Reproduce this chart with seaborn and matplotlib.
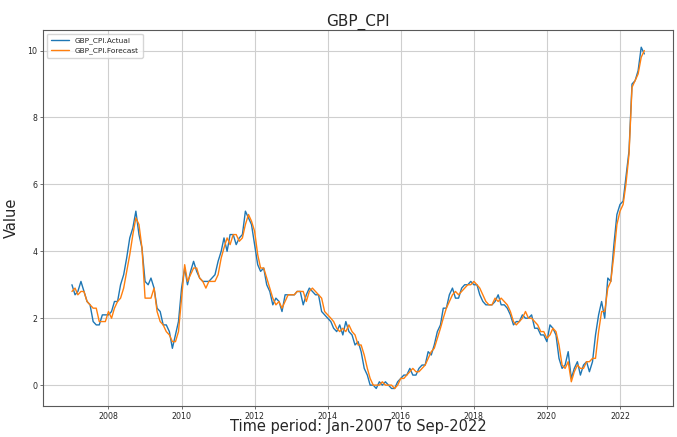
import numpy as np
import pandas as pd
import matplotlib
matplotlib.use("Agg")
import matplotlib.pyplot as plt
import seaborn as sns

# Monthly UK CPI annual rate (%), Jan-2007 .. Sep-2022
start_month = "2007-01"
end_month = "2022-09"

actual = [
    3.0, 2.7, 2.8, 3.1, 2.8, 2.5, 2.4, 1.9, 1.8, 1.8, 2.1, 2.1,   # 2007
    2.1, 2.2, 2.5, 2.5, 3.0, 3.3, 3.8, 4.4, 4.7, 5.2, 4.5, 4.1,   # 2008
    3.1, 3.0, 3.2, 2.9, 2.3, 2.2, 1.8, 1.8, 1.6, 1.1, 1.5, 1.9,   # 2009
    2.9, 3.5, 3.0, 3.4, 3.7, 3.4, 3.2, 3.1, 3.1, 3.1, 3.2, 3.3,   # 2010
    3.7, 4.0, 4.4, 4.0, 4.5, 4.5, 4.2, 4.4, 4.5, 5.2, 5.0, 4.8,   # 2011
    4.2, 3.6, 3.4, 3.5, 3.0, 2.8, 2.4, 2.6, 2.5, 2.2, 2.7, 2.7,   # 2012
    2.7, 2.7, 2.8, 2.8, 2.4, 2.7, 2.9, 2.8, 2.7, 2.7, 2.2, 2.1,   # 2013
    2.0, 1.9, 1.7, 1.6, 1.8, 1.5, 1.9, 1.6, 1.5, 1.2, 1.3, 1.0,   # 2014
    0.5, 0.3, 0.0, 0.0, -0.1, 0.1, 0.0, 0.1, 0.0, -0.1, -0.1, 0.1,  # 2015
    0.2, 0.3, 0.3, 0.5, 0.3, 0.3, 0.5, 0.6, 0.6, 1.0, 0.9, 1.2,   # 2016
    1.6, 1.8, 2.3, 2.3, 2.7, 2.9, 2.6, 2.6, 2.9, 3.0, 3.0, 3.1,   # 2017
    3.0, 3.0, 2.7, 2.5, 2.4, 2.4, 2.4, 2.5, 2.7, 2.4, 2.4, 2.3,   # 2018
    2.1, 1.8, 1.9, 1.9, 2.1, 2.0, 2.0, 2.1, 1.7, 1.7, 1.5, 1.5,   # 2019
    1.3, 1.8, 1.7, 1.5, 0.8, 0.5, 0.6, 1.0, 0.2, 0.5, 0.7, 0.3,   # 2020
    0.6, 0.7, 0.4, 0.7, 1.5, 2.1, 2.5, 2.0, 3.2, 3.1, 4.2, 5.1,   # 2021
    5.4, 5.5, 6.2, 7.0, 9.0, 9.1, 9.4, 10.1, 9.9,                 # 2022
]

forecast = [
    2.8, 2.9, 2.7, 2.8, 2.8, 2.5, 2.4, 2.3, 2.3, 1.9, 1.9, 1.9,   # 2007
    2.2, 2.0, 2.3, 2.5, 2.6, 2.9, 3.4, 3.9, 4.5, 5.0, 4.8, 4.1,   # 2008
    2.6, 2.6, 2.6, 2.9, 2.2, 1.9, 1.8, 1.6, 1.5, 1.3, 1.3, 1.6,   # 2009
    2.6, 3.6, 3.1, 3.3, 3.5, 3.5, 3.2, 3.1, 2.9, 3.1, 3.1, 3.1,   # 2010
    3.3, 3.8, 4.1, 4.4, 4.2, 4.5, 4.5, 4.3, 4.4, 4.8, 5.1, 4.9,   # 2011
    4.6, 3.9, 3.5, 3.5, 3.2, 2.9, 2.6, 2.4, 2.5, 2.3, 2.5, 2.7,   # 2012
    2.7, 2.7, 2.8, 2.8, 2.8, 2.5, 2.8, 2.9, 2.8, 2.7, 2.6, 2.2,   # 2013
    2.1, 2.0, 1.9, 1.7, 1.6, 1.7, 1.6, 1.8, 1.6, 1.5, 1.2, 1.2,   # 2014
    0.9, 0.5, 0.2, 0.0, 0.0, 0.0, 0.1, 0.0, 0.0, 0.0, -0.1, 0.0,  # 2015
    0.2, 0.2, 0.3, 0.4, 0.5, 0.4, 0.4, 0.5, 0.6, 0.8, 1.0, 1.1,   # 2016
    1.4, 1.7, 2.0, 2.3, 2.5, 2.7, 2.8, 2.7, 2.8, 2.9, 3.0, 3.0,   # 2017
    3.1, 3.0, 2.9, 2.7, 2.5, 2.4, 2.4, 2.6, 2.5, 2.6, 2.5, 2.4,   # 2018
    2.2, 1.9, 1.8, 1.9, 2.0, 2.2, 2.0, 2.0, 1.9, 1.8, 1.6, 1.6,   # 2019
    1.4, 1.5, 1.7, 1.6, 1.2, 0.6, 0.5, 0.7, 0.1, 0.4, 0.6, 0.5,   # 2020
    0.5, 0.7, 0.7, 0.8, 0.8, 1.6, 2.2, 2.2, 2.9, 3.1, 3.9, 4.8,   # 2021
    5.2, 5.4, 6.0, 6.9, 8.9, 9.1, 9.3, 9.8, 10.0,                 # 2022
]

series_names = ["GBP_CPI.Actual", "GBP_CPI.Forecast"]

dates = pd.date_range(start_month, end_month, freq="MS")
df = pd.DataFrame({
    "date": np.concatenate([dates, dates]),
    "value": actual + forecast,
    "series": [series_names[0]] * len(actual) + [series_names[1]] * len(forecast),
})

sns.set_theme(style="ticks")
plt.rcParams["font.family"] = ["DejaVu Sans"]

fig, ax = plt.subplots(figsize=(6.77, 4.37), dpi=100)
fig.subplots_adjust(left=0.064, right=0.994, bottom=0.072, top=0.931)

sns.lineplot(data=df, x="date", y="value", hue="series",
             palette=["#1f77b4", "#ff7f0e"], linewidth=1.0, ax=ax)

ax.grid(True, color="#cfcfcf", linewidth=0.8)
ax.set_axisbelow(True)
for s in ax.spines.values():
    s.set_color("0.35")
    s.set_linewidth(0.8)

ax.tick_params(labelsize=5.7, length=2.5, width=0.6, pad=2, color="0.35")
ax.set_yticks([0, 2, 4, 6, 8, 10])
ax.margins(x=0.05, y=0.05)

ax.set_title("GBP_CPI", fontsize=11, pad=3)
ax.set_xlabel("Time period: Jan-2007 to Sep-2022", fontsize=10.5, labelpad=-1)
ax.set_ylabel("Value", fontsize=10.5, labelpad=6)

ax.legend(loc="upper left", fontsize=5.3, frameon=True, handlelength=2.5,
          borderpad=0.5, labelspacing=0.4, fancybox=True, edgecolor="0.8")

fig.savefig("out.png", dpi=100)
